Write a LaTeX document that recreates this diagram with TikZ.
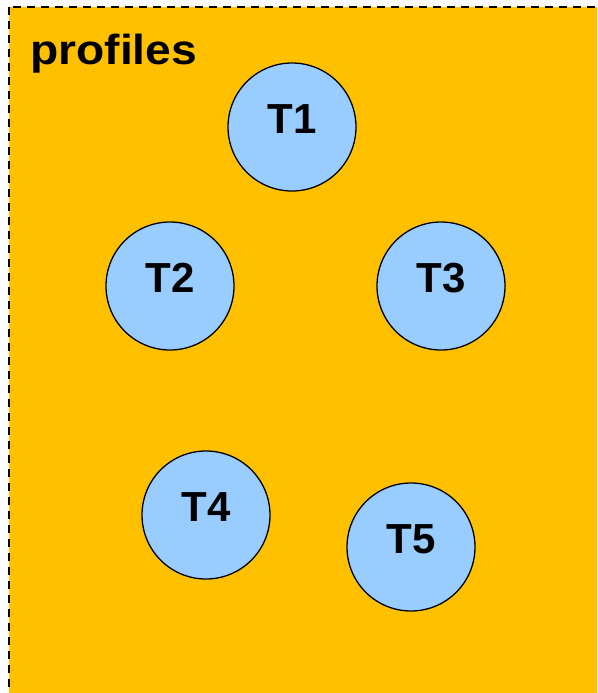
\documentclass[tikz,border=0pt]{standalone}
\usepackage{fontspec}
\setmainfont{Liberation Sans}
\definecolor{panelfill}{HTML}{FFC000}
\definecolor{tokenfill}{HTML}{99CCFF}
\begin{document}
\begin{tikzpicture}[x=1pt,y=-1pt,
  panel/.style={fill=panelfill,draw=black,line width=2pt,dash pattern=on 8pt off 6pt},
  token/.style={circle,draw=black,line width=1.3pt,fill=tokenfill,minimum size=128pt,inner sep=0pt},
  tlabel/.style={font=\fontsize{42}{42}\selectfont\bfseries,inner sep=0pt}]
  \useasboundingbox (0,0) rectangle (597,693);
  \clip (0,0) rectangle (597,693);
  % dashed container running off the right and bottom edges
  \draw[panel] (9,7) rectangle (640,740);
  \node[tlabel,anchor=base west,xscale=1.1] (title) at (30,65) {profiles};
  % the five profile tokens
  \node[token] (t1) at (292,127) {};
  \node[token] (t2) at (170,286) {};
  \node[token] (t3) at (441,286) {};
  \node[token] (t4) at (206,515) {};
  \node[token] (t5) at (411,547) {};
  \foreach \n/\t in {t1/T1,t2/T2,t3/T3,t4/T4,t5/T5}
    \node[tlabel] (\n-text) at ([yshift=8pt]\n.center) {\t};
\end{tikzpicture}
\end{document}
